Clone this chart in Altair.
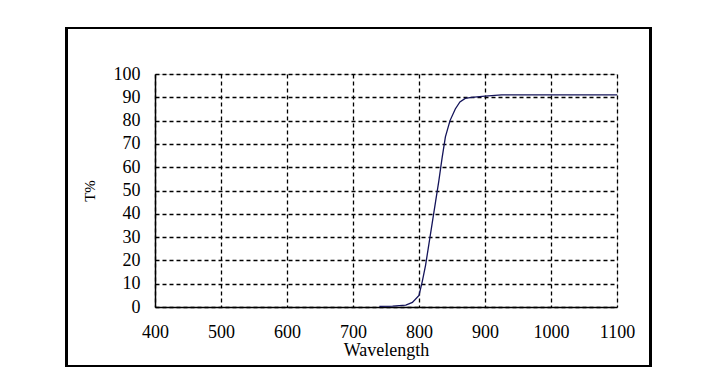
import altair as alt
import pandas as pd

wavelength = [740, 760, 780, 790, 800, 805, 810, 815, 820, 825, 830, 835, 840, 847, 855, 862, 870, 880, 900, 925, 1000, 1100]
transmission = [0.3, 0.4, 0.8, 2, 5, 11, 18, 27, 36, 45, 54, 64, 73, 80, 85, 88, 89.5, 90, 90.5, 91, 91, 91]
x_ticks = [400, 500, 600, 700, 800, 900, 1000, 1100]
y_ticks = [0, 10, 20, 30, 40, 50, 60, 70, 80, 90, 100]

df = pd.DataFrame({"Wavelength": wavelength, "T": transmission})

FONT = "Liberation Serif"
W, H = 462, 233

line = alt.Chart(df).mark_line(color="#14145a", strokeWidth=1.3, clip=True).encode(
    x=alt.X("Wavelength:Q",
            scale=alt.Scale(domain=[400, 1100], nice=False, zero=False),
            axis=alt.Axis(values=x_ticks, format="d", title="Wavelength",
                          titleFont=FONT, titleFontSize=18, titleFontWeight="normal",
                          titleColor="black", titlePadding=0,
                          labelFont=FONT, labelFontSize=18, labelColor="black",
                          labelPadding=16, ticks=False, labelFlush=False, labelOverlap=False,
                          domainColor="black", domainWidth=1.5,
                          grid=True, gridColor="black", gridDash=[4, 3], gridWidth=1.3)),
    y=alt.Y("T:Q",
            scale=alt.Scale(domain=[0, 100], nice=False),
            axis=alt.Axis(values=y_ticks, format="d", title="T%",
                          titleFont=FONT, titleFontSize=15, titleFontWeight="normal",
                          titleColor="black", titlePadding=16,
                          labelFont=FONT, labelFontSize=18, labelColor="black",
                          labelPadding=15, ticks=False, labelFlush=False, labelOverlap=False,
                          domainColor="black", domainWidth=1.5,
                          grid=True, gridColor="black", gridDash=[4, 3], gridWidth=1.3)),
)

frame = alt.Chart(df).mark_rect(fill=None, stroke="black", strokeWidth=2, clip=False).encode(
    x=alt.value(-88.5), x2=alt.value(495.5), y=alt.value(-46), y2=alt.value(292)
)

chart = alt.layer(frame, line).properties(
    width=W, height=H,
    autosize=alt.AutoSizeParams(type="none"),
    padding={"left": 147, "top": 66, "right": 40, "bottom": 60},
).configure_view(stroke="#808080", strokeWidth=1).configure(background="white")

chart.save("out.html", embed_options={"renderer": "svg", "actions": False})
